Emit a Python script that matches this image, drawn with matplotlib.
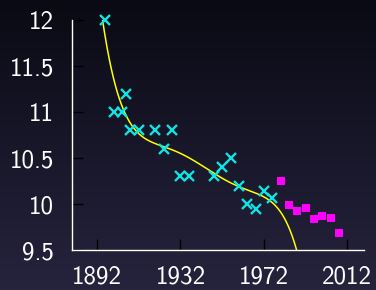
import numpy as np
import matplotlib
matplotlib.use('Agg')
import matplotlib.pyplot as plt
from matplotlib.colors import LinearSegmentedColormap

# Olympic 100m winning times, training part (cyan) and test part (magenta)
train_years = [1896, 1900, 1904, 1906, 1908, 1912, 1920, 1924, 1928, 1932, 1936,
               1948, 1952, 1956, 1960, 1964, 1968, 1972, 1976]
train_times = [12.0, 11.0, 11.0, 11.2, 10.8, 10.8, 10.8, 10.6, 10.8, 10.3, 10.3,
               10.3, 10.4, 10.5, 10.2, 10.0, 9.95, 10.14, 10.06]
test_years = [1980, 1984, 1988, 1992, 1996, 2000, 2004, 2008]
test_times = [10.25, 9.99, 9.92, 9.96, 9.84, 9.87, 9.85, 9.69]

x_ticks = [1892, 1932, 1972, 2012]
y_ticks = [9.5, 10, 10.5, 11, 11.5, 12]
y_labels = ['9.5', '10', '10.5', '11', '11.5', '12']
poly_degree = 5

plt.rcParams['font.family'] = ['cmss10', 'DejaVu Sans']

fig = plt.figure(figsize=(3.76, 2.9), dpi=100)

# gradient background
bg = fig.add_axes([0, 0, 1, 1], zorder=-1)
cmap = LinearSegmentedColormap.from_list('bg', ['#0a0a14', '#26233d'])
bg.imshow(np.linspace(0, 1, 256).reshape(-1, 1), aspect='auto', cmap=cmap)
bg.axis('off')

ax = fig.add_axes([72/376, 1-250/290, 292/376, 230/290])
ax.set_facecolor('none')

# polynomial fit to training data
xs = np.linspace(1885, max(test_years), 400)
p = np.polynomial.Polynomial.fit(train_years, train_times, poly_degree)
ax.plot(xs, p(xs), color='#ffff00', lw=1.1)

ax.plot(train_years, train_times, 'x', color='#10e3e3', ms=7, mew=1.7, clip_on=False)
ax.plot(test_years, test_times, 's', color='#ff00ff', ms=6.2, mew=0, clip_on=False)

ax.set_xlim(1880, 2020)
ax.set_ylim(9.5, 12)
ax.set_xticks(x_ticks)
ax.set_yticks(y_ticks)
ax.set_yticklabels(y_labels)
for s in ['top', 'right']:
    ax.spines[s].set_visible(False)
for s in ['left', 'bottom']:
    ax.spines[s].set_color('white')
    ax.spines[s].set_linewidth(1.0)
ax.tick_params(direction='in', length=8, width=1.0, color='black',
               labelcolor='white', labelsize=18)
ax.tick_params(axis='y', pad=13)
ax.tick_params(axis='x', pad=11)

fig.savefig('out.png', dpi=100)
